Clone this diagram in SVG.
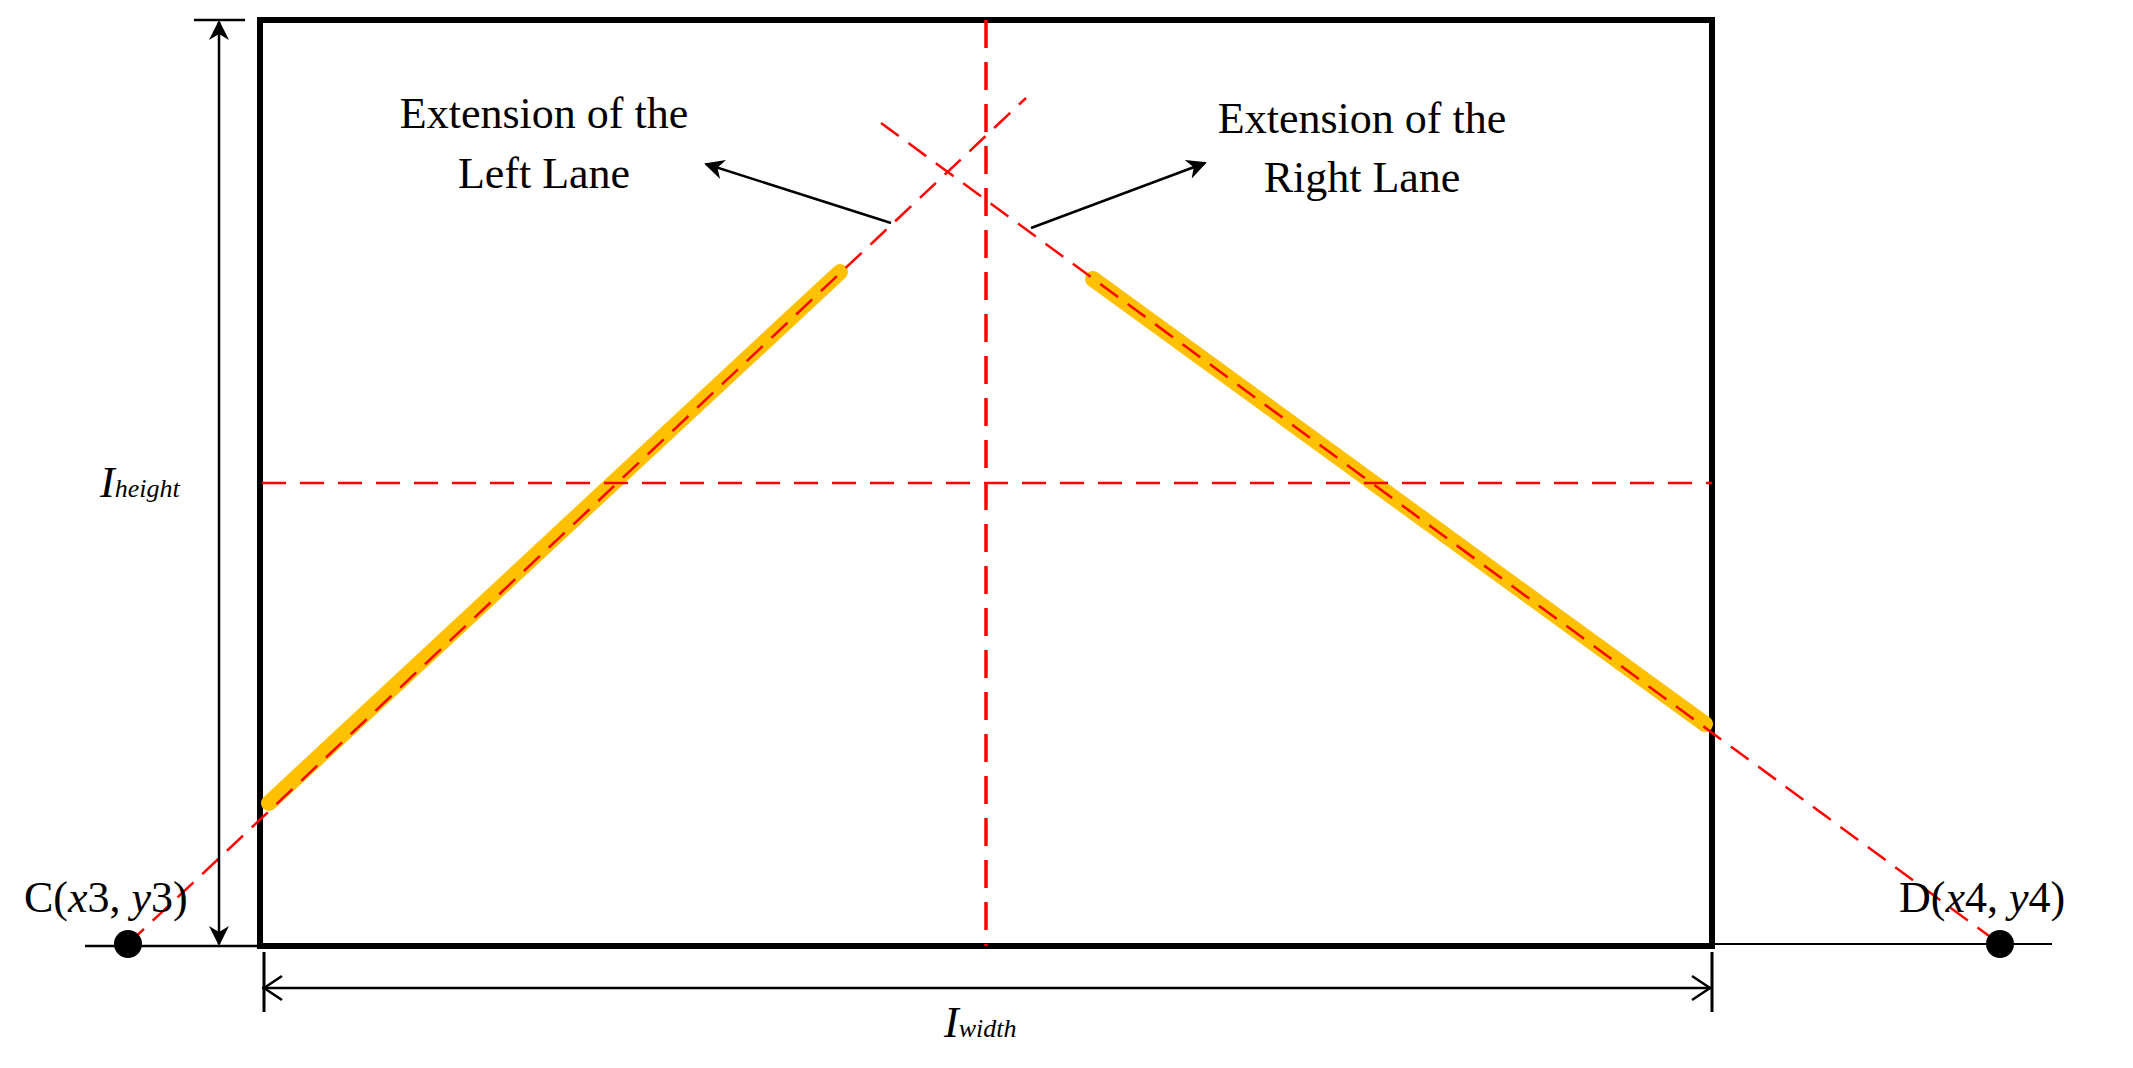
<svg xmlns="http://www.w3.org/2000/svg" width="2133" height="1068" viewBox="0 0 2133 1068">
<style>
.t{font-family:"Liberation Serif",serif;font-size:44px;fill:#000}
.blk{stroke:#000;fill:none}
.lane{stroke:#FFC000;stroke-width:16;stroke-linecap:round;fill:none}
.red{stroke:#FF0000;stroke-width:2.5;stroke-dasharray:22 12;fill:none}
</style>
<defs>
<marker id="ah" viewBox="0 0 10 10" refX="9" refY="5" markerWidth="8" markerHeight="8" orient="auto-start-reverse"><path d="M0,0 L10,5 L0,10 L3,5 z" fill="#000"/></marker>
</defs>
<rect width="2133" height="1068" fill="#fff"/>
<g id="frame">
<rect x="260" y="20" width="1452" height="926" class="blk" stroke-width="6"/>
</g>
<g id="lanes">
<line x1="269" y1="803" x2="840" y2="272" class="lane"/>
<line x1="1093" y1="279" x2="1705" y2="724" class="lane"/>
</g>
<g id="connectors">
<line x1="128" y1="944" x2="1026" y2="98" class="red"/>
<line x1="881" y1="123" x2="2000" y2="944" class="red"/>
<line x1="986" y1="20" x2="986" y2="946" stroke="#FF0000" stroke-width="3.5" stroke-dasharray="28 14"/>
<line x1="262" y1="483" x2="1712" y2="483" stroke="#FF0000" stroke-width="2.5" stroke-dasharray="24 14"/>
<line x1="85" y1="946" x2="260" y2="946" class="blk" stroke-width="2.5"/>
<line x1="1712" y1="944" x2="2052" y2="944" class="blk" stroke-width="2"/>
<line x1="219" y1="22" x2="219" y2="944" class="blk" stroke-width="2.5" marker-start="url(#ah)" marker-end="url(#ah)"/>
<line x1="194" y1="20" x2="245" y2="20" class="blk" stroke-width="2.5"/>
<line x1="262" y1="988" x2="1712" y2="988" class="blk" stroke-width="2.5"/>
<path d="M282,976 L264,988 L282,1000 M1692,976 L1710,988 L1692,1000" class="blk" stroke-width="2.5"/>
<line x1="264" y1="952" x2="264" y2="1012" class="blk" stroke-width="3"/>
<line x1="1712" y1="952" x2="1712" y2="1012" class="blk" stroke-width="3"/>
<line x1="891" y1="223" x2="706" y2="164" class="blk" stroke-width="2.5" marker-end="url(#ah)"/>
<line x1="1031" y1="228" x2="1205" y2="163" class="blk" stroke-width="2.5" marker-end="url(#ah)"/>
</g>
<g id="pointC"><circle cx="128" cy="944" r="14" fill="#000"/>
<text class="t" x="24" y="912">C(<tspan font-style="italic">x</tspan>3, <tspan font-style="italic">y</tspan>3)</text></g>
<g id="pointD"><circle cx="2000" cy="944" r="14" fill="#000"/>
<text class="t" x="1899" y="912">D(<tspan font-style="italic">x</tspan>4, <tspan font-style="italic">y</tspan>4)</text></g>
<g id="labelLeft"><text class="t" text-anchor="middle" x="544" y="128">Extension of the</text><text class="t" text-anchor="middle" x="544" y="188">Left Lane</text></g>
<g id="labelRight"><text class="t" text-anchor="middle" x="1362" y="133">Extension of the</text><text class="t" text-anchor="middle" x="1362" y="192">Right Lane</text></g>
<g id="dimH"><text class="t" x="100" y="497" font-style="italic">I<tspan font-size="26">height</tspan></text></g>
<g id="dimW"><text class="t" x="944" y="1037" font-style="italic">I<tspan font-size="26">width</tspan></text></g>
</svg>
